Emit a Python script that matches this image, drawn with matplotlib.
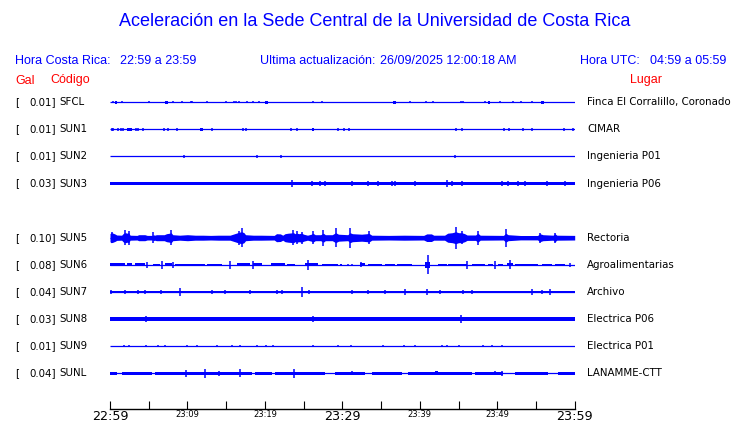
import matplotlib
matplotlib.use('Agg')
import matplotlib.pyplot as plt
import numpy as np

# ---------------- data ----------------
stations = ['SFCL', 'SUN1', 'SUN2', 'SUN3', 'SUN5', 'SUN6', 'SUN7', 'SUN8', 'SUN9', 'SUNL']
gal_max = [0.01, 0.01, 0.01, 0.03, 0.10, 0.08, 0.04, 0.03, 0.01, 0.04]
places = ['Finca El Corralillo, Coronado', 'CIMAR', 'Ingenieria P01', 'Ingenieria P06',
          'Rectoria', 'Agroalimentarias', 'Archivo', 'Electrica P06', 'Electrica P01',
          'LANAMME-CTT']
tick_minutes = [0, 10, 20, 30, 40, 50, 60]
tick_labels = ['22:59', '23:09', '23:19', '23:29', '23:39', '23:49', '23:59']

# background noise level (half amplitude, display units) per station
base_level = [0.5, 0.5, 0.5, 1.8, 2.2, 0.5, 1.3, 1.7, 0.5, 1.3]

# spikes: (minute, half amplitude)
sfcl_spikes = [(0.43, 1.3), (1.59, 1.3), (5.07, 1.3), (8.1, 1.3), (9.26, 1.3), (10.42, 1.3),
               (10.63, 1.3), (12.56, 1.3), (14.98, 1.3), (16.05, 1.3), (16.27, 1.3), (16.69, 1.3),
               (17.73, 1.3), (18.5, 1.3), (19.28, 1.3), (26.25, 1.3), (27.33, 1.3), (38.77, 1.3),
               (40.84, 1.3), (41.74, 1.3), (45.3, 1.3), (45.54, 1.3), (48.42, 1.3), (50.36, 1.3),
               (52.07, 1.3), (53.06, 1.3), (54.52, 1.3)]
sun1_spikes = [(0.22, 1.3), (0.43, 1.3), (1.07, 1.3), (1.38, 1.3), (1.72, 1.3), (3.32, 1.3),
               (3.65, 1.3), (4.3, 1.3), (7.01, 1.3), (7.45, 1.5), (8.61, 1.3), (13.13, 1.3),
               (17.13, 1.3), (17.52, 1.3), (23.33, 1.3), (24.11, 1.3), (29.48, 1.3), (30.26, 1.3),
               (30.9, 1.3), (44.64, 1.3), (45.41, 1.5), (50.87, 1.3), (51.52, 1.3), (53.29, 1.3),
               (54.49, 1.3), (58.66, 1.3), (59.74, 1.5)]
sun2_spikes = [(9.6, 1.2), (18.98, 1.2), (22.08, 1.2), (44.59, 1.4)]
sun3_spikes = [(23.46, 3.3), (26.04, 2.3), (27.08, 2.7), (27.76, 2.2), (31.2, 2.2), (33.35, 2.7),
               (34.64, 2.2), (36.37, 2.2), (36.8, 2.2), (39.38, 2.2), (43.47, 3.3), (44.12, 2.7),
               (45.41, 2.2), (50.61, 2.7), (51.43, 2.2), (52.72, 2.2), (53.59, 2.2), (56.38, 2.2),
               (58.75, 2.2)]
sun5_spikes = [(0.3, 5.5), (2.0, 7.5), (2.4, 7.0), (5.6, 5.3), (7.9, 7.5), (16.7, 7.0),
               (17.0, 9.3), (23.67, 7.3), (24.1, 6.7), (24.75, 6.0), (26.2, 6.5), (27.55, 8.0),
               (29.14, 9.3), (30.99, 10.0), (33.4, 6.5), (44.63, 11.0), (45.4, 6.7), (47.5, 7.0),
               (51.1, 9.0), (55.5, 5.0), (57.45, 5.0)]
sun6_spikes = [(4.73, 3.3), (6.67, 4.0), (8.18, 2.7), (15.5, 4.0), (18.42, 4.0), (25.52, 5.0),
               (30.77, 1.2), (31.29, 1.2), (32.4, 2.5), (41.0, 9.5), (46.05, 4.0), (49.71, 4.0),
               (51.65, 4.5), (59.39, 2.0)]
sun7_spikes = [(0.13, 2.3), (1.94, 1.8), (3.66, 1.8), (4.52, 1.8), (6.58, 1.7), (9.04, 4.0),
               (13.13, 1.8), (14.85, 1.8), (18.08, 1.8), (21.52, 2.3), (22.16, 1.7), (24.75, 5.0),
               (25.69, 2.0), (31.2, 2.3), (33.35, 1.8), (35.51, 1.8), (38.09, 2.7), (40.89, 3.0),
               (42.61, 2.0), (45.62, 1.8), (46.7, 1.8), (54.44, 2.7), (55.73, 1.8), (56.81, 3.3)]
sun8_spikes = [(0.22, 2.3), (0.65, 2.3), (1.29, 2.3), (4.6, 3.0), (5.38, 2.3), (6.24, 2.3),
               (7.32, 2.3), (11.4, 2.3), (12.48, 2.3), (12.91, 2.3), (14.0, 2.3), (14.85, 2.3),
               (16.78, 2.3), (18.94, 2.3), (20.01, 2.3), (20.66, 2.3), (26.25, 3.3), (29.91, 2.3),
               (30.99, 2.3), (32.49, 2.3), (33.57, 2.3), (35.29, 2.3), (38.0, 2.3), (39.38, 2.3),
               (45.32, 4.3), (46.05, 2.3), (48.42, 2.3), (49.5, 2.3), (51.52, 2.3), (59.18, 2.3)]
sun9_spikes = [(1.85, 1.0), (2.45, 1.0), (4.6, 1.0), (6.24, 1.0), (7.1, 1.0), (9.98, 1.0),
               (11.19, 1.2), (13.86, 1.0), (15.71, 1.0), (16.78, 1.0), (18.94, 1.2), (20.1, 1.0),
               (21.09, 1.0), (26.25, 1.2), (29.48, 1.0), (31.07, 1.0), (35.29, 1.2), (38.0, 1.0),
               (39.38, 1.0), (42.91, 1.0), (43.47, 1.0), (45.02, 1.3), (48.2, 1.2), (49.28, 1.0),
               (50.66, 1.0)]
sunl_spikes = [(9.81, 3.3), (12.31, 4.3), (14.12, 2.3), (16.83, 4.0), (23.8, 4.3), (31.2, 2.0),
               (36.28, 1.7), (40.67, 1.7), (42.09, 1.8), (44.54, 1.7), (49.71, 1.8), (50.57, 2.7)]

# bursts: (start minute, end minute, half amplitude)
sfcl_bursts = [(0.65, 0.95, 1.7), (7.1, 7.45, 1.7), (20.0, 20.35, 1.7), (36.6, 36.9, 1.5),
               (48.8, 49.05, 1.5), (55.7, 56.1, 1.7)]
sun1_bursts = [(2.2, 2.8, 1.7), (11.6, 12.0, 1.7), (26.1, 26.4, 1.5)]
sun2_bursts = []
sun3_bursts = [(0.0, 23.4, 1.8)]
sun5_bursts = []
sun6_bursts = [(0.0, 1.94, 1.4), (2.15, 2.8, 1.4), (3.23, 4.52, 1.4), (5.6, 6.46, 1.3),
               (7.1, 7.96, 1.4), (8.39, 12.27, 1.3), (12.48, 14.42, 1.3), (16.35, 18.08, 1.4),
               (18.5, 19.58, 1.4), (20.74, 22.6, 1.4), (22.81, 23.89, 1.3), (25.18, 26.9, 1.4),
               (27.33, 29.48, 1.3), (29.7, 29.9, 1.2), (32.28, 32.92, 1.4), (33.35, 35.08, 1.3),
               (35.5, 36.8, 1.3), (37.0, 38.95, 1.3), (40.67, 41.32, 3.0), (42.39, 43.47, 1.3),
               (43.68, 46.05, 1.3), (46.7, 48.42, 1.3), (48.85, 49.5, 1.3), (50.14, 50.79, 1.3),
               (51.22, 52.08, 1.5), (52.29, 55.3, 1.3), (55.73, 57.03, 1.3), (57.46, 58.75, 1.3)]
sun7_bursts = []
sun8_bursts = [(2.37, 3.23, 2.3), (9.25, 10.54, 2.3), (22.16, 22.81, 2.3), (23.89, 24.23, 2.3),
               (24.75, 24.96, 2.3), (40.89, 42.18, 2.3), (43.68, 44.55, 2.3), (52.51, 53.37, 2.3),
               (54.66, 56.17, 2.3), (57.67, 58.32, 2.3)]
sun9_bursts = []
sunl_bursts = [(41.9, 42.3, 1.8)]

# quiet stretches (only the thin line visible)
sun3_quiet = []
sunl_quiet = [(0.86, 1.51), (5.38, 5.81), (18.29, 18.72), (20.87, 21.3), (27.76, 29.05),
              (32.92, 33.78), (37.66, 38.52), (46.7, 47.13), (50.8, 52.29), (56.6, 57.89)]

# SUN5 (Rectoria) amplitude envelope: minute, half amplitude
sun5_env_t = [0.0, 0.15, 0.4, 0.7, 0.86, 1.5, 1.75, 2.0, 2.2, 2.4, 2.6, 3.5, 3.7, 4.5, 4.8, 5.5,
              5.6, 5.75, 6.0, 7.0, 7.3, 7.7, 7.9, 8.1, 9.0, 10.0, 11.0, 12.0, 13.0, 14.0, 15.5,
              15.9, 16.3, 16.7, 17.0, 17.3, 17.5, 18.5, 19.5, 21.2, 21.5, 22.0, 22.3, 22.6, 23.0,
              23.7, 23.9, 24.1, 24.4, 24.75, 25.0, 25.5, 26.0, 26.2, 26.5, 27.2, 27.55, 27.8,
              28.7, 29.14, 29.5, 30.7, 30.99, 31.3, 32.5, 33.2, 33.4, 33.8, 36.0, 38.0, 40.5,
              40.9, 41.5, 41.8, 43.2, 43.6, 44.2, 44.63, 45.0, 45.4, 45.8, 46.1, 47.2, 47.5,
              47.8, 50.8, 51.1, 51.4, 53.0, 55.2, 55.5, 55.9, 57.2, 57.45, 57.7, 60.0]
sun5_env_a = [4.0, 5.0, 4.5, 3.5, 2.7, 2.5, 4.5, 5.0, 4.5, 5.0, 2.5, 2.3, 3.0, 3.0, 2.3, 2.3,
              3.0, 2.5, 3.0, 3.0, 4.0, 4.5, 5.0, 3.0, 2.5, 3.0, 2.5, 2.5, 2.3, 2.5, 2.5,
              3.5, 4.5, 5.5, 6.0, 5.0, 3.0, 2.5, 2.5, 2.3, 4.0, 3.8, 2.5, 4.0, 4.5,
              5.0, 4.0, 4.5, 4.0, 4.5, 3.5, 2.5, 3.5, 4.5, 3.0, 3.0, 4.5, 3.0,
              3.0, 5.0, 3.5, 3.0, 5.0, 4.0, 3.5, 4.0, 4.5, 2.5, 2.3, 2.5, 2.3,
              3.8, 3.8, 2.5, 2.5, 4.5, 5.0, 6.0, 5.0, 5.0, 4.0, 2.7, 2.7, 4.5,
              2.5, 2.3, 4.5, 3.0, 2.2, 2.2, 4.0, 3.0, 2.5, 4.0, 2.5, 2.3]

spikes_all = [sfcl_spikes, sun1_spikes, sun2_spikes, sun3_spikes, sun5_spikes, sun6_spikes,
              sun7_spikes, sun8_spikes, sun9_spikes, sunl_spikes]
bursts_all = [sfcl_bursts, sun1_bursts, sun2_bursts, sun3_bursts, sun5_bursts, sun6_bursts,
              sun7_bursts, sun8_bursts, sun9_bursts, sunl_bursts]
quiet_all = {3: sun3_quiet, 9: sunl_quiet}

# ---------------- layout / style ----------------
W, H = 740, 423
BLUE = '#0000ff'
RED = '#ff0000'
rows = [0, 1, 2, 3, 5, 6, 7, 8, 9, 10]     # row 4 is empty in the display
ROW0, ROWSTEP = 102.2, 27.1
X0, X1 = 110, 574.7
Y_TOP, Y_AXIS = 88, 409

fig = plt.figure(figsize=(W / 100, H / 100), dpi=100)
fig.patch.set_facecolor('white')


def ftext(x, y, s, **kw):
    fig.text(x / W, 1 - y / H, s, **kw)


ax = fig.add_axes([X0 / W, 1 - Y_AXIS / H, (X1 - X0) / W, (Y_AXIS - Y_TOP) / H])
ax.set_xlim(0, 60)
ax.set_ylim(Y_AXIS, Y_TOP)
for s in ['top', 'left', 'right']:
    ax.spines[s].set_visible(False)
ax.spines['bottom'].set_linewidth(1.0)
ax.set_yticks([])
ax.set_xticks(tick_minutes)
ax.set_xticks([m + 5 for m in tick_minutes[:-1]], minor=True)
ax.set_xticklabels(tick_labels)
ax.tick_params(axis='x', which='both', direction='in', length=5.8, width=0.8, color='black', pad=0.8)
for i, lab in enumerate(ax.get_xticklabels()):
    lab.set_family('DejaVu Sans')
    if i % 3 == 0:
        lab.set_fontsize(9.2)
    else:
        lab.set_fontsize(6)
ax.patch.set_visible(False)

for k, row in enumerate(rows):
    yc = ROW0 + ROWSTEP * row
    # thin trace line
    ax.hlines(yc, 0, 60, color=BLUE, lw=0.9)
    # background noise band
    b = base_level[k]
    if k == 4:
        ax.fill_between(sun5_env_t, [yc - a for a in sun5_env_a], [yc + a for a in sun5_env_a],
                        color=BLUE, lw=0)
    elif b > 0.6 and k != 3:
        q = quiet_all.get(k, [])
        edges = [0.0]
        for (qa, qb) in q:
            edges += [qa, qb]
        edges.append(60.0)
        for i in range(0, len(edges), 2):
            ax.bar(edges[i], 2 * b, width=edges[i + 1] - edges[i], bottom=yc - b,
                   align='edge', color=BLUE, lw=0)
    elif k == 3:
        ax.bar(0, 2 * b * 0.83, width=60, bottom=yc - b * 0.83, align='edge', color=BLUE, lw=0)
    for (t0, t1, a) in bursts_all[k]:
        ax.bar(t0, 2 * a, width=t1 - t0, bottom=yc - a, align='edge', color=BLUE, lw=0)
    for (t, a) in spikes_all[k]:
        ax.vlines(t, yc - a, yc + a, color=BLUE, lw=1.1)

    # labels
    ftext(15, yc, '[', fontsize=7.4, family='DejaVu Sans', va='center', ha='left')
    ftext(55.5, yc, f'{gal_max[k]:.2f}]', fontsize=7.4, family='DejaVu Sans', va='center', ha='right')
    ftext(59, yc, stations[k], fontsize=7.4, family='DejaVu Sans', va='center', ha='left')
    ftext(587, yc, places[k], fontsize=7.4, family='DejaVu Sans', va='center', ha='left')

# header texts
ftext(375, 22, 'Aceleración en la Sede Central de la Universidad de Costa Rica',
      fontsize=13, family='Liberation Sans', color=BLUE, ha='center', va='center')
ftext(15, 61, 'Hora Costa Rica:', fontsize=9, family='Liberation Sans', color=BLUE, va='center')
ftext(120, 61, '22:59 a 23:59', fontsize=9, family='Liberation Sans', color=BLUE, va='center')
ftext(260, 61, 'Ultima actualización:', fontsize=9, family='Liberation Sans', color=BLUE, va='center')
ftext(380, 61, '26/09/2025 12:00:18 AM', fontsize=9, family='Liberation Sans', color=BLUE, va='center')
ftext(580.5, 61, 'Hora UTC:', fontsize=9, family='Liberation Sans', color=BLUE, va='center')
ftext(650.5, 61, '04:59 a 05:59', fontsize=9, family='Liberation Sans', color=BLUE, va='center')
ftext(15, 80.5, 'Gal', fontsize=9, family='Liberation Sans', color=RED, va='center')
ftext(50, 80.5, 'Código', fontsize=9, family='Liberation Sans', color=RED, va='center')
ftext(630, 80.5, 'Lugar', fontsize=9, family='Liberation Sans', color=RED, va='center')

fig.savefig('out.png', dpi=100, facecolor='white')
